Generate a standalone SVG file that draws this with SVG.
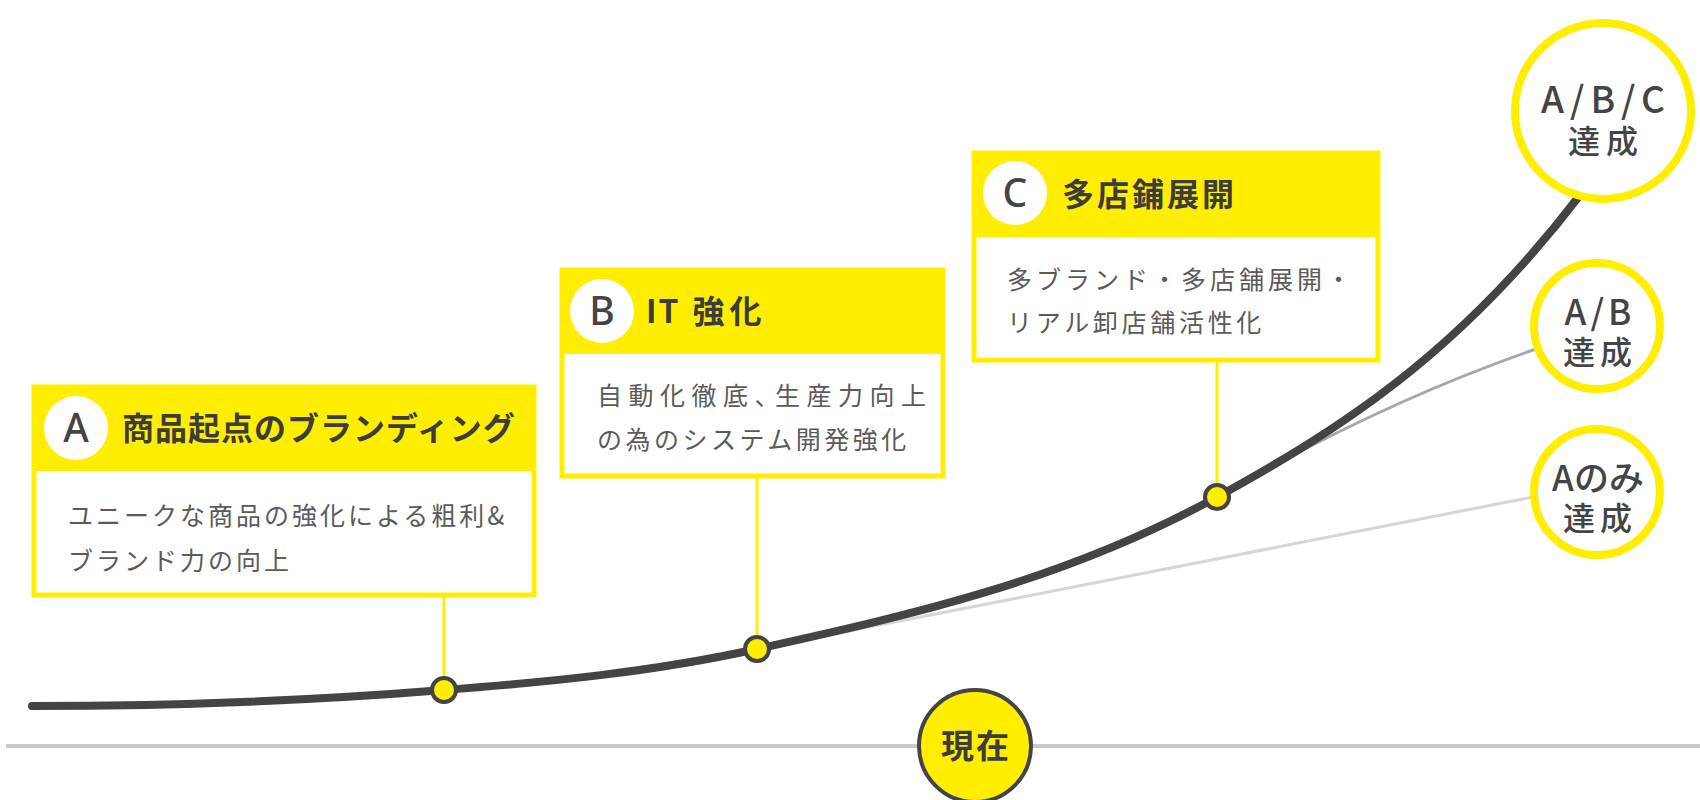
<svg xmlns="http://www.w3.org/2000/svg" width="1700" height="800" viewBox="0 0 1700 800">
<style>
.hdr{fill:#FFEE00}
.box{fill:#fff;stroke:#FFEE00;stroke-width:5}
.badge{fill:#fff}
.ltr{font-family:"Noto Sans","Noto Sans CJK JP",sans-serif;font-weight:500;font-size:39px;fill:#444;text-anchor:middle}
.ttl{font-family:"Noto Sans CJK JP",sans-serif;font-weight:700;font-size:32px;fill:#3c3c3c}
.body{font-family:"Noto Sans CJK JP",sans-serif;font-weight:400;font-size:25px;fill:#5a5a5a}
.stem{stroke:#FFEE00;stroke-width:3;fill:none}
.dot{fill:#FFEE00;stroke:#444;stroke-width:4}
.goal{fill:#fff;stroke:#FFEE00;stroke-width:8}
.gt{font-family:"Noto Sans CJK JP",sans-serif;font-weight:500;fill:#444;text-anchor:middle}
</style>
<rect width="1700" height="800" fill="#fff"/>
<line x1="6" y1="746" x2="1700" y2="746" stroke="#c8c8c8" stroke-width="4"/>
<g id="connectors">
<line class="stem" x1="444" y1="597" x2="444" y2="690"/>
<line class="stem" x1="757" y1="478" x2="757" y2="649"/>
<line class="stem" x1="1217" y1="362" x2="1217" y2="497"/>
<line x1="757" y1="649" x2="1533" y2="497" stroke="#d6d6d6" stroke-width="3"/>
<path d="M1217,497 Q1382,402 1536,349" stroke="#a8a8a8" stroke-width="3" fill="none"/>
<path d="M32,706 C169,706 307,701 444,690 C548,682 653,672 757,649 C910,615 1064,581 1217,497 C1337,431 1457,356 1580,195" stroke="#444" stroke-width="8" fill="none" stroke-linecap="round"/>
</g>
<g id="boxA">
<rect class="box" x="34" y="387" width="500" height="208"/>
<rect class="hdr" x="32" y="385" width="504" height="86"/>
<circle class="badge" cx="76" cy="428" r="32"/>
<text class="ltr" x="76" y="442">A</text>
<text class="ttl" x="122" y="440" letter-spacing="1">商品起点のブランディング</text>
<text class="body" x="68" y="525" letter-spacing="3">ユニークな商品の強化による粗利&amp;</text>
<text class="body" x="68" y="570" letter-spacing="3">ブランド力の向上</text>
</g>
<g id="boxB">
<rect class="box" x="562" y="270" width="381" height="206"/>
<rect class="hdr" x="560" y="268" width="385" height="86"/>
<circle class="badge" cx="602" cy="311" r="32"/>
<text class="ltr" x="602" y="325">B</text>
<text class="ttl" x="646" y="323" letter-spacing="2">IT<tspan dx="12" letter-spacing="5">強化</tspan></text>
<text class="body" x="597" y="405" letter-spacing="6.5">自動化徹底<tspan letter-spacing="-4.5">、</tspan>生産力向上</text>
<text class="body" x="597" y="449" letter-spacing="3.5">の為のシステム開発強化</text>
</g>
<g id="boxC">
<rect class="box" x="974" y="153" width="404" height="207"/>
<rect class="hdr" x="972" y="151" width="408" height="86"/>
<circle class="badge" cx="1015" cy="193" r="32"/>
<text class="ltr" x="1015" y="207">C</text>
<text class="ttl" x="1062" y="206" letter-spacing="3">多店鋪展開</text>
<text class="body" x="1007" y="289" letter-spacing="4">多ブランド・多店舗展開・</text>
<text class="body" x="1007" y="332" letter-spacing="3.7">リアル卸店舗活性化</text>
</g>
<g id="dots">
<circle class="dot" cx="444" cy="690" r="12"/>
<circle class="dot" cx="757" cy="649" r="12"/>
<circle class="dot" cx="1217" cy="497" r="12"/>
</g>
<g id="goalABC">
<circle class="goal" cx="1603" cy="111" r="88"/>
<text class="gt" x="1606" y="113" font-size="37" letter-spacing="6">A/B/C</text>
<text class="gt" x="1606" y="153" font-size="32" letter-spacing="6">達成</text>
</g>
<g id="goalAB">
<circle class="goal" cx="1597" cy="326" r="63"/>
<text class="gt" x="1600" y="325" font-size="35" letter-spacing="4">A/B</text>
<text class="gt" x="1600" y="364" font-size="32" letter-spacing="5">達成</text>
</g>
<g id="goalA">
<circle class="goal" cx="1597" cy="492" r="63"/>
<text class="gt" x="1598" y="491" font-size="35">Aのみ</text>
<text class="gt" x="1600" y="530" font-size="32" letter-spacing="5">達成</text>
</g>
<g id="now">
<circle cx="975" cy="746" r="56" fill="#FFEE00" stroke="#444" stroke-width="4"/>
<text x="976" y="758" font-family="'Noto Sans CJK JP',sans-serif" font-weight="700" font-size="33" fill="#3c3c3c" text-anchor="middle" letter-spacing="2">現在</text>
</g>
</svg>
